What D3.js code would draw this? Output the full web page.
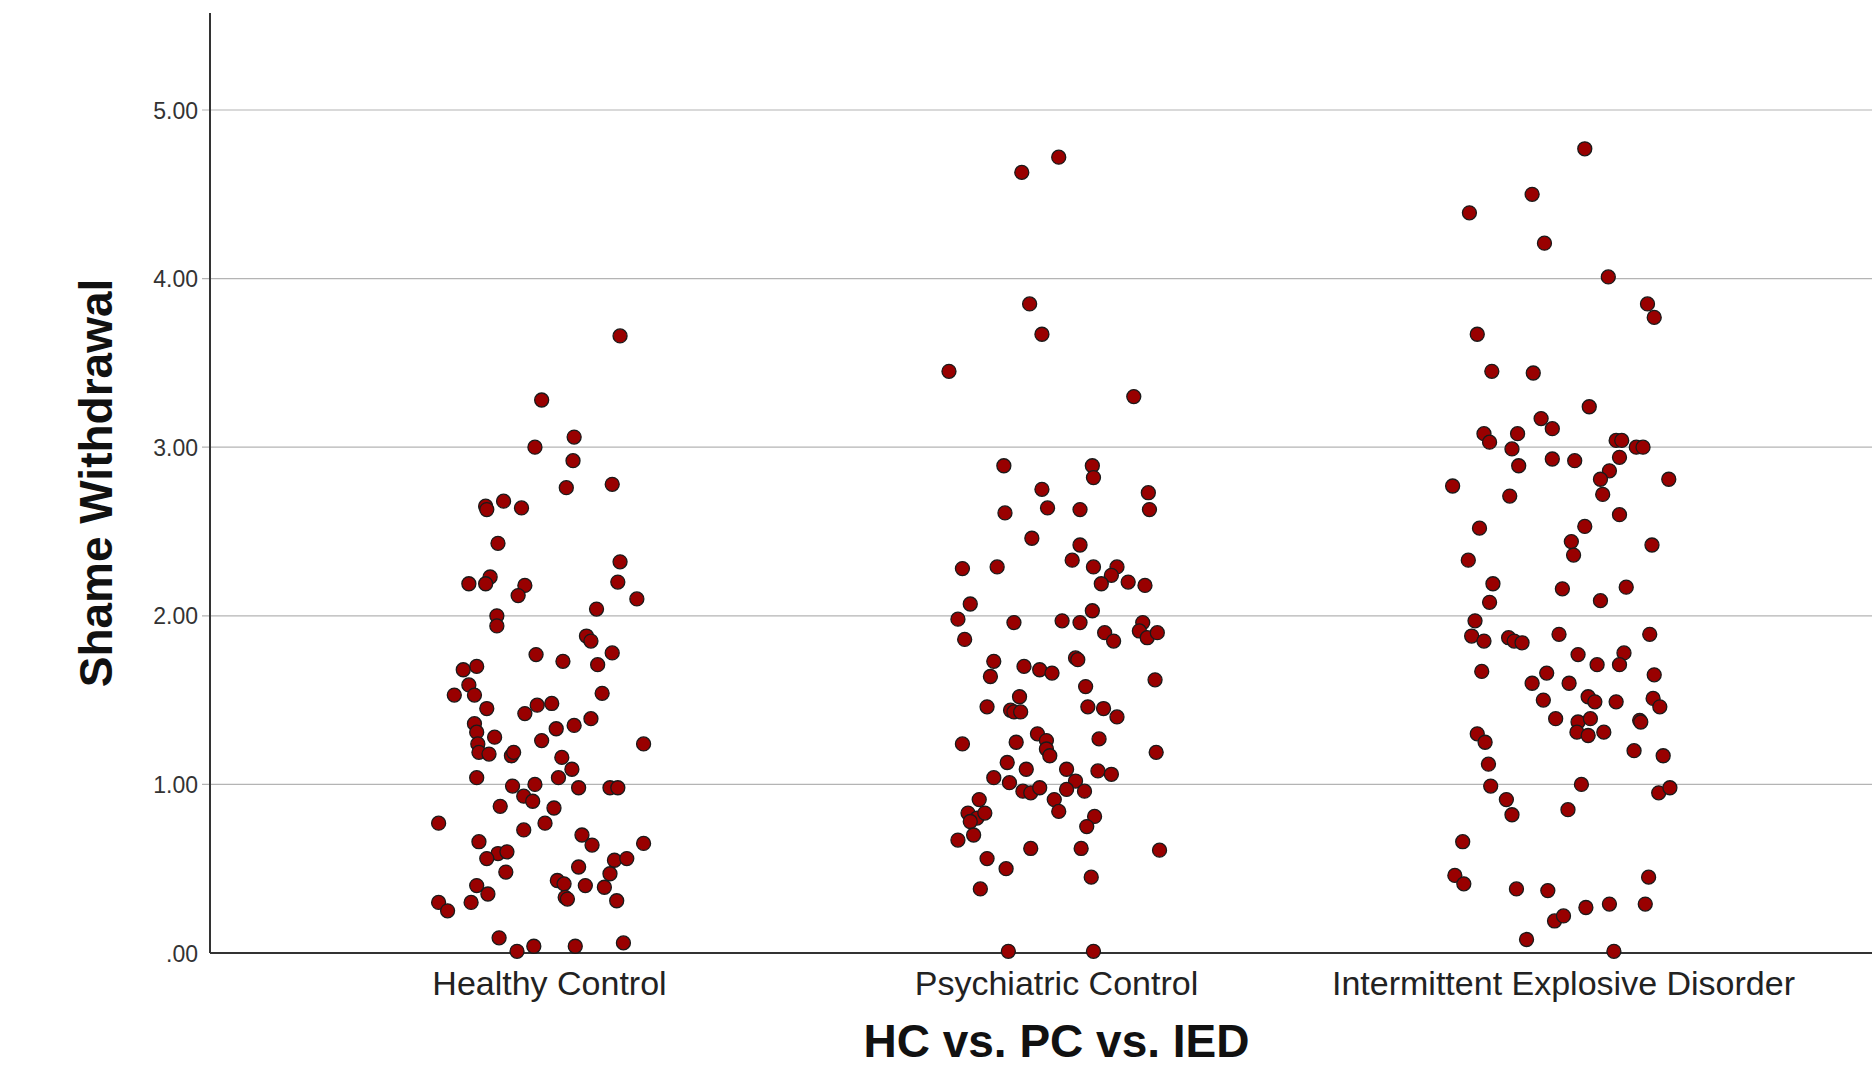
<!DOCTYPE html>
<html>
<head>
<meta charset="utf-8">
<script src="https://cdn.jsdelivr.net/npm/d3@7"></script>
<style>
  body { margin: 0; background: #fff; }
  text { font-family: "Liberation Sans", Arial, sans-serif; }
</style>
</head>
<body>
<div id="chart"></div>
<script>
// shame withdrawal by group - jittered scatter

const categories = ["Healthy Control", "Psychiatric Control", "Intermittent Explosive Disorder"];
const yTicks = [0, 1, 2, 3, 4, 5];

// [jitter (-1..1 inside the group), shame withdrawal score]
const hcPoints = [
  [0.63, 3.66], [-0.07, 3.28], [0.22, 3.06], [-0.13, 3.00], [0.21, 2.92], [0.15, 2.76], [0.56, 2.78],
  [-0.57, 2.65], [-0.56, 2.63], [-0.41, 2.68], [-0.25, 2.64], [-0.46, 2.43], [0.63, 2.32], [-0.72, 2.19],
  [-0.53, 2.23], [-0.57, 2.19], [-0.22, 2.18], [-0.28, 2.12], [0.61, 2.20], [0.78, 2.10], [0.42, 2.04],
  [-0.47, 2.00], [-0.47, 1.94], [0.33, 1.88], [0.37, 1.85], [-0.12, 1.77], [0.12, 1.73], [0.56, 1.78],
  [0.43, 1.71], [-0.65, 1.70], [-0.77, 1.68], [-0.72, 1.59], [-0.85, 1.53], [-0.67, 1.53], [0.47, 1.54],
  [-0.56, 1.45], [-0.11, 1.47], [0.02, 1.48], [-0.22, 1.42], [-0.67, 1.36], [-0.65, 1.31], [-0.49, 1.28],
  [0.06, 1.33], [0.22, 1.35], [0.37, 1.39], [-0.64, 1.24], [-0.63, 1.19], [-0.54, 1.18], [-0.34, 1.17],
  [-0.32, 1.19], [-0.07, 1.26], [0.84, 1.24], [0.11, 1.16], [0.20, 1.09], [0.08, 1.04], [-0.65, 1.04],
  [-0.33, 0.99], [-0.13, 1.00], [0.26, 0.98], [0.54, 0.98], [0.61, 0.98], [-0.23, 0.93], [-0.15, 0.90],
  [-0.44, 0.87], [0.04, 0.86], [-0.99, 0.77], [-0.04, 0.77], [-0.23, 0.73], [0.29, 0.70], [0.38, 0.64],
  [0.84, 0.65], [-0.63, 0.66], [-0.46, 0.59], [-0.38, 0.60], [-0.56, 0.56], [-0.39, 0.48], [0.58, 0.55],
  [0.69, 0.56], [0.26, 0.51], [0.54, 0.47], [0.07, 0.43], [0.13, 0.41], [0.14, 0.33], [0.16, 0.32],
  [0.32, 0.40], [0.49, 0.39], [0.60, 0.31], [-0.65, 0.40], [-0.55, 0.35], [-0.70, 0.30], [-0.99, 0.30],
  [-0.91, 0.25], [-0.45, 0.09], [-0.14, 0.04], [-0.29, 0.01], [0.23, 0.04], [0.66, 0.06]
];

const pcPoints = [
  [0.02, 4.72], [-0.31, 4.63], [-0.24, 3.85], [-0.13, 3.67], [-0.96, 3.45], [0.69, 3.30], [-0.47, 2.89],
  [0.32, 2.89], [0.33, 2.82], [-0.13, 2.75], [0.82, 2.73], [0.83, 2.63], [-0.46, 2.61], [-0.08, 2.64],
  [0.21, 2.63], [-0.22, 2.46], [0.21, 2.42], [0.14, 2.33], [-0.84, 2.28], [-0.53, 2.29], [0.33, 2.29],
  [0.54, 2.29], [0.49, 2.24], [0.40, 2.19], [0.64, 2.20], [0.79, 2.18], [-0.77, 2.07], [0.32, 2.03],
  [-0.88, 1.98], [-0.38, 1.96], [0.05, 1.97], [0.21, 1.96], [0.77, 1.96], [0.43, 1.90], [0.74, 1.91],
  [0.81, 1.87], [0.90, 1.90], [0.51, 1.85], [-0.82, 1.86], [-0.56, 1.73], [-0.29, 1.70], [-0.15, 1.68],
  [-0.04, 1.66], [0.17, 1.75], [0.19, 1.74], [-0.59, 1.64], [0.26, 1.58], [0.88, 1.62], [-0.33, 1.52],
  [-0.62, 1.46], [-0.41, 1.44], [-0.38, 1.43], [-0.32, 1.43], [0.28, 1.46], [0.42, 1.45], [0.54, 1.40],
  [-0.84, 1.24], [-0.36, 1.25], [-0.17, 1.30], [-0.09, 1.26], [-0.09, 1.21], [-0.06, 1.17], [0.38, 1.27],
  [0.89, 1.19], [-0.44, 1.13], [-0.27, 1.09], [-0.56, 1.04], [0.09, 1.09], [0.37, 1.08], [0.49, 1.06],
  [-0.42, 1.01], [-0.30, 0.96], [-0.23, 0.95], [-0.15, 0.98], [0.17, 1.02], [0.09, 0.97], [0.25, 0.96],
  [-0.02, 0.91], [0.02, 0.84], [-0.69, 0.91], [-0.79, 0.83], [-0.71, 0.80], [-0.64, 0.83], [-0.77, 0.78],
  [-0.74, 0.70], [-0.88, 0.67], [0.34, 0.81], [0.27, 0.75], [-0.23, 0.62], [0.22, 0.62], [0.92, 0.61],
  [-0.62, 0.56], [-0.45, 0.50], [0.31, 0.45], [-0.68, 0.38], [-0.43, 0.01], [0.33, 0.01]
];

const iedPoints = [
  [0.19, 4.77], [-0.28, 4.50], [-0.84, 4.39], [-0.17, 4.21], [0.40, 4.01], [0.75, 3.85], [0.81, 3.77],
  [-0.77, 3.67], [-0.64, 3.45], [-0.27, 3.44], [0.23, 3.24], [-0.20, 3.17], [-0.10, 3.11], [-0.71, 3.08],
  [-0.66, 3.03], [-0.41, 3.08], [-0.46, 2.99], [0.47, 3.04], [0.52, 3.04], [0.65, 3.00], [0.71, 3.00],
  [-0.10, 2.93], [0.10, 2.92], [0.50, 2.94], [-0.40, 2.89], [0.41, 2.86], [0.33, 2.81], [0.94, 2.81],
  [-0.99, 2.77], [-0.48, 2.71], [0.35, 2.72], [0.50, 2.60], [0.19, 2.53], [-0.75, 2.52], [0.07, 2.44],
  [0.09, 2.36], [0.79, 2.42], [-0.85, 2.33], [-0.63, 2.19], [-0.66, 2.08], [-0.01, 2.16], [0.56, 2.17],
  [0.33, 2.09], [-0.79, 1.97], [-0.82, 1.88], [-0.71, 1.85], [-0.49, 1.87], [-0.44, 1.85], [-0.37, 1.84],
  [-0.04, 1.89], [0.77, 1.89], [0.13, 1.77], [0.54, 1.78], [0.50, 1.71], [0.30, 1.71], [-0.73, 1.67],
  [-0.15, 1.66], [0.81, 1.65], [-0.28, 1.60], [0.05, 1.60], [-0.18, 1.50], [0.22, 1.52], [0.28, 1.49],
  [0.47, 1.49], [0.80, 1.51], [0.86, 1.46], [-0.07, 1.39], [0.13, 1.37], [0.24, 1.39], [0.12, 1.31],
  [0.22, 1.29], [0.36, 1.31], [0.68, 1.38], [0.69, 1.37], [-0.77, 1.30], [-0.70, 1.25], [0.63, 1.20],
  [0.89, 1.17], [-0.67, 1.12], [-0.65, 0.99], [0.16, 1.00], [0.85, 0.95], [0.95, 0.98], [-0.51, 0.91],
  [-0.46, 0.82], [0.04, 0.85], [-0.90, 0.66], [-0.97, 0.46], [-0.89, 0.41], [-0.42, 0.38], [-0.14, 0.37],
  [0.76, 0.45], [0.73, 0.29], [0.20, 0.27], [0.41, 0.29], [-0.08, 0.19], [0.00, 0.22], [-0.33, 0.08],
  [0.45, 0.01]
];

const groups = [hcPoints, pcPoints, iedPoints];

const width = 1872, height = 1070;
const axisLeft = 210, axisBottom = 953, axisTop = 13;

const svg = d3.select("#chart")
  .append("svg")
  .attr("width", width)
  .attr("height", height);

const x = d3.scalePoint()
  .domain(categories)
  .range([296, 1817])
  .padding(0.5);

const jitter = d3.scaleLinear()
  .domain([-1, 1])
  .range([-112, 112]);

const y = d3.scaleLinear()
  .domain([0, 5])
  .range([axisBottom, 110]);

// grid lines + little ticks left of the axis
svg.append("g")
  .selectAll("line")
  .data(yTicks.filter(d => d > 0))
  .join("line")
  .attr("x1", axisLeft - 8)
  .attr("x2", width)
  .attr("y1", d => y(d))
  .attr("y2", d => y(d))
  .attr("stroke", "#b4b4b4")
  .attr("stroke-width", 1.2);

// tick labels, spss style ".00"
svg.append("g")
  .selectAll("text")
  .data(yTicks)
  .join("text")
  .attr("x", 198)
  .attr("y", d => y(d) + 8.5)
  .attr("text-anchor", "end")
  .style("font-size", "23px")
  .attr("fill", "#333")
  .text(d => d === 0 ? ".00" : d.toFixed(2));

// axis lines
svg.append("line")
  .attr("x1", axisLeft).attr("x2", axisLeft)
  .attr("y1", axisTop).attr("y2", axisBottom)
  .attr("stroke", "#333")
  .attr("stroke-width", 2);

svg.append("line")
  .attr("x1", axisLeft).attr("x2", width)
  .attr("y1", axisBottom).attr("y2", axisBottom)
  .attr("stroke", "#333")
  .attr("stroke-width", 2);

// category labels
svg.append("g")
  .selectAll("text")
  .data(categories)
  .join("text")
  .attr("x", d => x(d))
  .attr("y", 995)
  .attr("text-anchor", "middle")
  .style("font-size", "34px")
  .attr("fill", "#222")
  .text(d => d);

// the dots
groups.forEach((pts, i) => {
  svg.append("g")
    .selectAll("circle")
    .data(pts)
    .join("circle")
    .attr("cx", d => x(categories[i]) + jitter(d[0]))
    .attr("cy", d => y(d[1]))
    .attr("r", 7)
    .attr("fill", "#990000")
    .attr("stroke", "#1a1a1a")
    .attr("stroke-width", 1.3);
});

// axis titles
svg.append("text")
  .attr("transform", `translate(112, ${(axisTop + axisBottom) / 2}) rotate(-90)`)
  .attr("text-anchor", "middle")
  .style("font-size", "46px")
  .style("font-weight", "bold")
  .attr("fill", "#111")
  .text("Shame Withdrawal");

// x title sits right at the bottom edge, nudged up so it stays whole
svg.append("text")
  .attr("x", x(categories[1]))
  .attr("y", 1057)
  .attr("text-anchor", "middle")
  .style("font-size", "46px")
  .style("font-weight", "bold")
  .attr("fill", "#111")
  .text("HC vs. PC vs. IED");
</script>
</body>
</html>
